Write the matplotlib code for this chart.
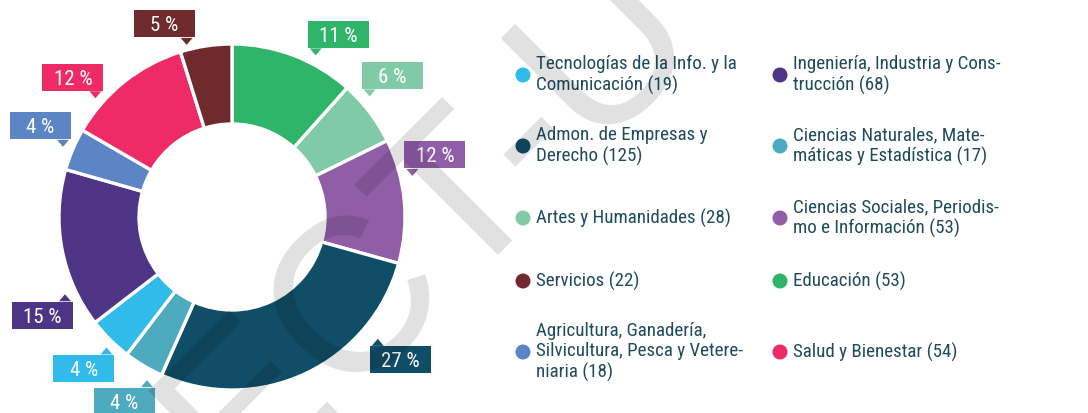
import numpy as np
import matplotlib
matplotlib.use("Agg")
import matplotlib.pyplot as plt
from matplotlib.patches import Rectangle, Polygon, Circle
from matplotlib import font_manager

# ---------------- data (pie order, clockwise from 12 o'clock) ----------------
names = [
    "Educación",
    "Artes y Humanidades",
    "Ciencias Sociales, Periodis-\nmo e Información",
    "Admon. de Empresas y\nDerecho",
    "Ciencias Naturales, Mate-\nmáticas y Estadística",
    "Tecnologías de la Info. y la\nComunicación",
    "Ingeniería, Industria y Cons-\ntrucción",
    "Agricultura, Ganadería,\nSilvicultura, Pesca y Vetere-\nniaria",
    "Salud y Bienestar",
    "Servicios",
]
values = [53, 28, 53, 125, 17, 19, 68, 18, 54, 22]
pct_labels = ["11 %", "6 %", "12 %", "27 %", "4 %", "4 %", "15 %", "4 %", "12 %", "5 %"]
colors = ["#2eb56a", "#81caa8", "#8f5ea7", "#104d66", "#4eaabf",
          "#31bbea", "#4e3484", "#5c85c5", "#ee2a67", "#6e2a2c"]
# legend order (row by row, two columns)
legend_order = [5, 6, 3, 4, 1, 2, 9, 0, 7, 8]

# ---------------- layout ----------------
W, H = 1088, 413
fig = plt.figure(figsize=(W / 100, H / 100), dpi=100)
ax = fig.add_axes([0, 0, 1, 1])

avail = {f.name for f in font_manager.fontManager.ttflist}
if "Roboto Condensed" in avail:
    FONT = "Roboto Condensed"
    leg_fs, lab_fs, lsp = 13.7, 15.0, 1.2
elif "Liberation Sans Narrow" in avail:
    FONT = "Liberation Sans Narrow"
    leg_fs, lab_fs, lsp = 14.5, 14.5, 1.15
else:
    FONT = "Liberation Sans"
    leg_fs, lab_fs, lsp = 12.1, 12.0, 1.45

def Y(y_img):
    return H - y_img

cx, cy = 232, Y(217)
R_out = 173
ring_w = 80

ax.pie(values, colors=colors, startangle=90, counterclock=False,
       radius=R_out, center=(cx, cy),
       wedgeprops=dict(width=ring_w, edgecolor="white", linewidth=2.4))

# ---------------- callout labels ----------------
total = float(sum(values))
cum = np.concatenate([[0], np.cumsum(values)])
label_shift_deg = [-6.5, 4.0, 7.5, 24.9, 3.2, 1.0, 14.0, 0.5, 10.4, 6.1]
label_r = [182, 183, 185, 190, 184, 181, 184, 183, 181, 178]
bw, bh, gap = 61, 27, 7.5
for i, v in enumerate(values):
    mid = 90 - 360 * (cum[i] + v / 2) / total
    ang = np.deg2rad(mid + label_shift_deg[i])
    r_tip = label_r[i]
    tx, ty = cx + r_tip * np.cos(ang), cy + r_tip * np.sin(ang)
    right = np.cos(ang) > 0
    upper = np.sin(ang) > 0
    x0 = tx - 8 if right else tx + 8 - bw
    if upper:
        y0 = ty + gap
        edge = y0 - 0.5
    else:
        y0 = ty - gap - bh
        edge = y0 + bh + 0.5
    ax.add_patch(Rectangle((x0, y0), bw, bh, facecolor=colors[i],
                           edgecolor="none", zorder=5))
    bx0 = max(tx - 6, x0)
    bx1 = min(tx + 6, x0 + bw)
    ax.add_patch(Polygon([(bx0, edge), (bx1, edge), (tx, ty)], closed=True,
                         facecolor=colors[i], edgecolor="none", zorder=5))
    ax.text(x0 + bw / 2, y0 + bh / 2, pct_labels[i], color="white",
            fontsize=lab_fs, family=FONT, ha="center", va="center_baseline",
            zorder=6)

# ---------------- legend ----------------
col_marker_x = [523, 780]
col_text_x = [536, 793]
row_y_img = [75, 146, 218, 281, 352]
text_color = "#1f4b5e"
for k, idx in enumerate(legend_order):
    row, col = divmod(k, 2)
    yy = Y(row_y_img[row])
    ax.add_patch(Circle((col_marker_x[col], yy), 7.5, facecolor=colors[idx],
                        edgecolor="none", zorder=5))
    ax.text(col_text_x[col], yy, f"{names[idx]} ({values[idx]})",
            color=text_color, fontsize=leg_fs, family=FONT, ha="left",
            va="center", linespacing=lsp, zorder=5)

# ---------------- watermark ----------------
ax.text(470, Y(265), "ECT-U", rotation=45, rotation_mode="anchor",
        ha="center", va="baseline", fontsize=158, family="Liberation Sans",
        color="black", alpha=0.12, zorder=20)

ax.set_xlim(0, W)
ax.set_ylim(0, H)
ax.set_aspect("equal")
ax.axis("off")
fig.savefig("out.png", dpi=100)
